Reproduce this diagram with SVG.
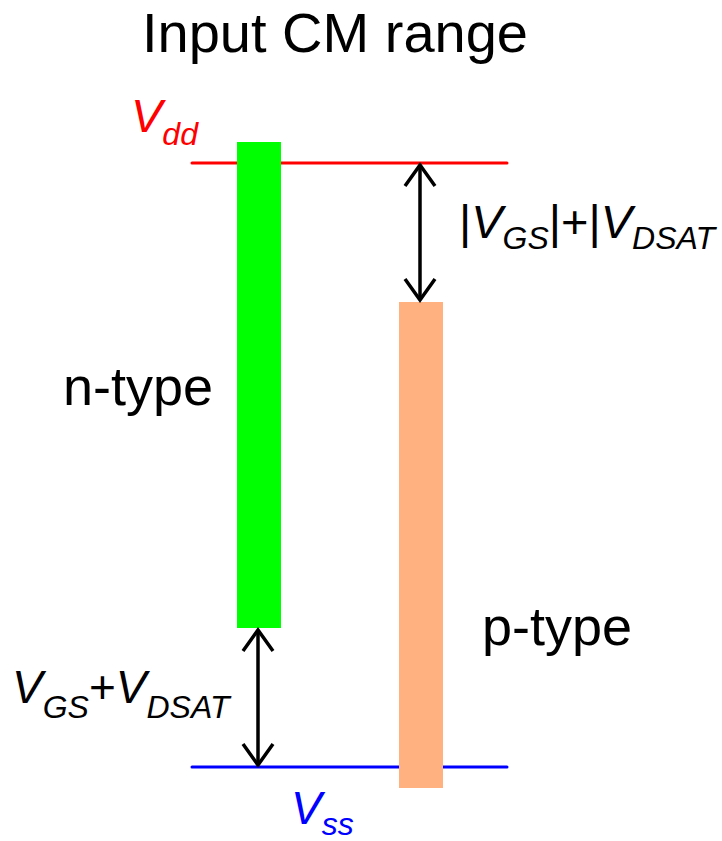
<svg xmlns="http://www.w3.org/2000/svg" width="722" height="841" viewBox="0 0 722 841">
  <style>
    text { font-family: "Liberation Sans", Arial, sans-serif; fill: #000; }
    .it { font-style: italic; }
    .rail { stroke-width: 3; stroke-linecap: round; fill: none; }
    .dim { stroke: #000; stroke-width: 3.5; fill: none; marker-start: url(#chev); marker-end: url(#chev); }
  </style>
  <defs>
    <marker id="chev" markerUnits="userSpaceOnUse" viewBox="-26 -18 30 36" markerWidth="30" markerHeight="36" refX="0" refY="0" orient="auto-start-reverse">
      <path d="M -21 -15 L 0 0 L -21 15" stroke="#000" stroke-width="3.5" fill="none"/>
    </marker>
  </defs>

  <g id="title">
    <text x="335" y="52" font-size="56" text-anchor="middle">Input CM range</text>
  </g>

  <g id="vdd">
    <line class="rail" x1="192" y1="163" x2="507" y2="163" stroke="#ff0000"/>
    <text x="131" y="132" font-size="47" class="it" style="fill:#ff0000">V<tspan font-size="32" dy="13">dd</tspan></text>
  </g>

  <g id="vss">
    <line class="rail" x1="192" y1="767" x2="507" y2="767" stroke="#0000ff"/>
    <text x="291" y="824" font-size="46" class="it" style="fill:#0000ff">V<tspan font-size="32" dy="11">ss</tspan></text>
  </g>

  <g id="n-type">
    <rect x="237" y="142" width="44" height="486" fill="#00ff00"/>
    <text x="63" y="405" font-size="54">n-type</text>
  </g>

  <g id="p-type">
    <rect x="399" y="302" width="44" height="486" fill="#ffb27f"/>
    <text x="482" y="645" font-size="54">p-type</text>
  </g>

  <g id="connectors">
    <line class="dim" x1="420" y1="165" x2="420" y2="300"/>
    <line class="dim" x1="258" y1="630" x2="258" y2="765"/>
  </g>

  <g id="label-p">
    <text x="459" y="238" font-size="47">|<tspan class="it">V</tspan><tspan class="it" font-size="32" dy="11">GS</tspan><tspan dy="-11">|+|</tspan><tspan class="it">V</tspan><tspan class="it" font-size="32" dy="11">DSAT</tspan></text>
  </g>

  <g id="label-n">
    <text x="12" y="703" font-size="46"><tspan class="it">V</tspan><tspan class="it" font-size="32" dy="15">GS</tspan><tspan dy="-15">+</tspan><tspan class="it">V</tspan><tspan class="it" font-size="32" dy="15">DSAT</tspan></text>
  </g>
</svg>
